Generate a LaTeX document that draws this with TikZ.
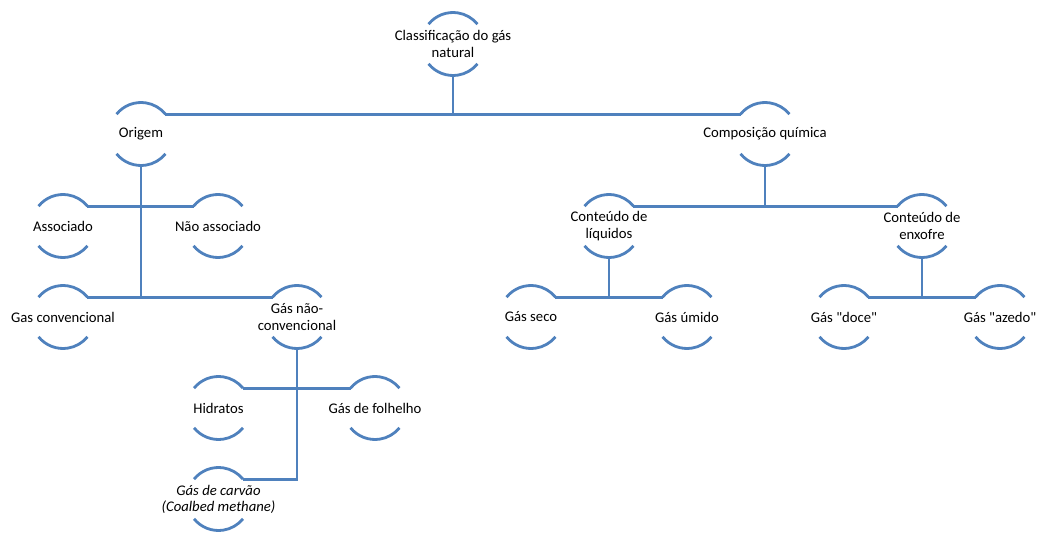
\documentclass[tikz,border=0pt]{standalone}
\usepackage{fontspec}
\setmainfont{Carlito}[Ligatures=TeXOff]
\definecolor{ln}{RGB}{79,129,189}
\tikzset{
  ring/.style={circle, minimum size=63pt, inner sep=0pt, outer sep=0pt},
  lbl/.style={font=\fontsize{14.7}{16.5}\selectfont, align=center, text=black, inner sep=0pt},
  ilbl/.style={lbl, font=\fontsize{14.7}{16}\selectfont\itshape},
  conn/.style={draw=ln, line width=2.8pt},
}
\begin{document}
\begin{tikzpicture}[x=1pt,y=1pt]
\useasboundingbox (0,-535) rectangle (1037,0);
% nodes
\node[ring,label={[lbl]center:Classificação do gás\\natural}] (root) at (453,-44) {};
\node[ring,label={[lbl]center:Origem}] (origem) at (141,-134) {};
\node[ring,label={[lbl]center:Composição química}] (comp) at (765,-134) {};
\node[ring,label={[lbl]center:Associado}] (assoc) at (63,-226) {};
\node[ring,label={[lbl]center:Não associado}] (nassoc) at (218,-226) {};
\node[ring,label={[lbl]center:Gas convencional}] (gconv) at (63,-317) {};
\node[ring,label={[lbl]center:Gás não-\\convencional}] (gnconv) at (297,-317) {};
\node[ring,label={[lbl]center:Hidratos}] (hid) at (218.5,-408) {};
\node[ring,label={[lbl]center:Gás de folhelho}] (folh) at (375,-408) {};
\node[ring,label={[ilbl]center:Gás de carvão\\(Coalbed methane)}] (carv) at (218.5,-499) {};
\node[ring,label={[lbl]center:Conteúdo de\\líquidos}] (liq) at (609,-226) {};
\node[ring,label={[lbl]center:Conteúdo de\\enxofre}] (enx) at (922,-226) {};
\node[ring,label={[lbl]center:Gás seco}] (seco) at (531,-317) {};
\node[ring,label={[lbl]center:Gás úmido}] (umido) at (687,-317) {};
\node[ring,label={[lbl]center:Gás "doce"}] (doce) at (844,-317) {};
\node[ring,label={[lbl]center:Gás "azedo"}] (azedo) at (1000,-317) {};
% arcs
\foreach \n in {root,origem,comp,assoc,nassoc,gconv,gnconv,hid,folh,carv,liq,enx,seco,umido,doce,azedo}{
  \draw[conn] (\n.141) arc[start angle=141,end angle=39,radius=31.5pt];
  \draw[conn] (\n.219) arc[start angle=219,end angle=321,radius=31.5pt];
}
% connectors
\draw[conn] (origem.39) -- (comp.141);
\draw[conn] (root.south) -- (root.south |- origem.39);
\draw[conn] (assoc.39) -- (nassoc.141);
\draw[conn] (gconv.39) -- (gnconv.141);
\draw[conn] (origem.south) -- (origem.south |- gconv.39);
\draw[conn] (hid.39) -- (folh.141);
\draw[conn] (gnconv.south) |- (carv.39);
\draw[conn] (liq.39) -- (enx.141);
\draw[conn] (comp.south) -- (comp.south |- liq.39);
\draw[conn] (seco.39) -- (umido.141);
\draw[conn] (liq.south) -- (liq.south |- seco.39);
\draw[conn] (doce.39) -- (azedo.141);
\draw[conn] (enx.south) -- (enx.south |- doce.39);
\end{tikzpicture}
\end{document}
